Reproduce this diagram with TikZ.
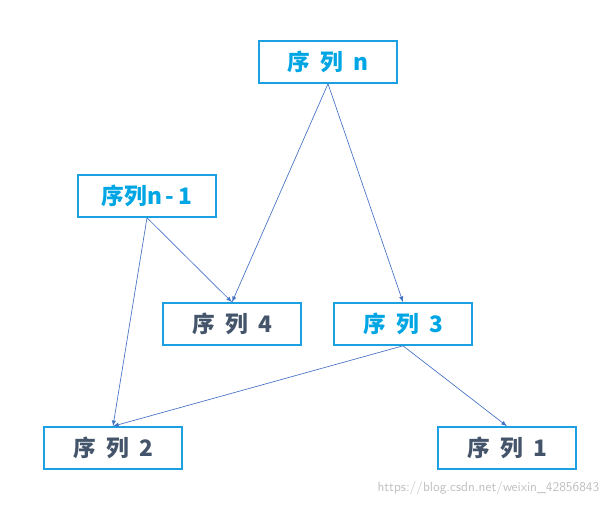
\documentclass[tikz,border=0pt]{standalone}
\usepackage{fontspec}
\newfontfamily\cjk{Noto Sans CJK SC}
\usetikzlibrary{arrows}
\definecolor{boxcyan}{HTML}{1BA1E2}
\definecolor{txtcyan}{HTML}{00A6E4}
\definecolor{txtdark}{HTML}{44546A}
\definecolor{arrblue}{HTML}{4472C4}
\tikzset{
  seq/.style={draw=boxcyan,line width=1.2pt,minimum width=103.5pt,minimum height=31.5pt,font=\cjk\bfseries\fontsize{17}{17}\selectfont,inner sep=0pt},
  hot/.style={seq,text=txtcyan},
  cold/.style={seq,text=txtdark},
  link/.style={draw=arrblue,line width=0.5pt,-latex}
}
\begin{document}
\begin{tikzpicture}[x=0.75pt,y=-0.75pt]
\useasboundingbox (0,0) rectangle (613,506);
          \node[hot] (Sn) at(328,62) {序\ \ 列\ \ n};
          \node[hot] (Sn1) at(147,196) {序列n\,-\,1};
          \node[cold] (S4) at(232,324) {序\ \ 列\ \ 4};
          \node[hot] (S3) at(403,324) {序\ \ 列\ \ 3};
          \node[cold] (S2) at(113,448) {序\ \ 列\ \ 2};
          \node[cold] (S1) at(507,448) {序\ \ 列\ \ 1};
             \draw[link] (Sn.south) -- (S4.north);
             \draw[link] (Sn.south) -- (S3.north);
             \draw[link] (Sn1.south) -- (S4.north);
             \draw[link] (Sn1.south) -- (S2.north);
             \draw[link] (S3.south) -- (S2.north);
             \draw[link] (S3.south) -- (S1.north);
          \node[text=gray!50,font=\sffamily\fontsize{10}{10}\selectfont,anchor=east] (Mark) at(604,488) {https://blog.csdn.net/weixin\_42856843};
\end{tikzpicture}
\end{document}
